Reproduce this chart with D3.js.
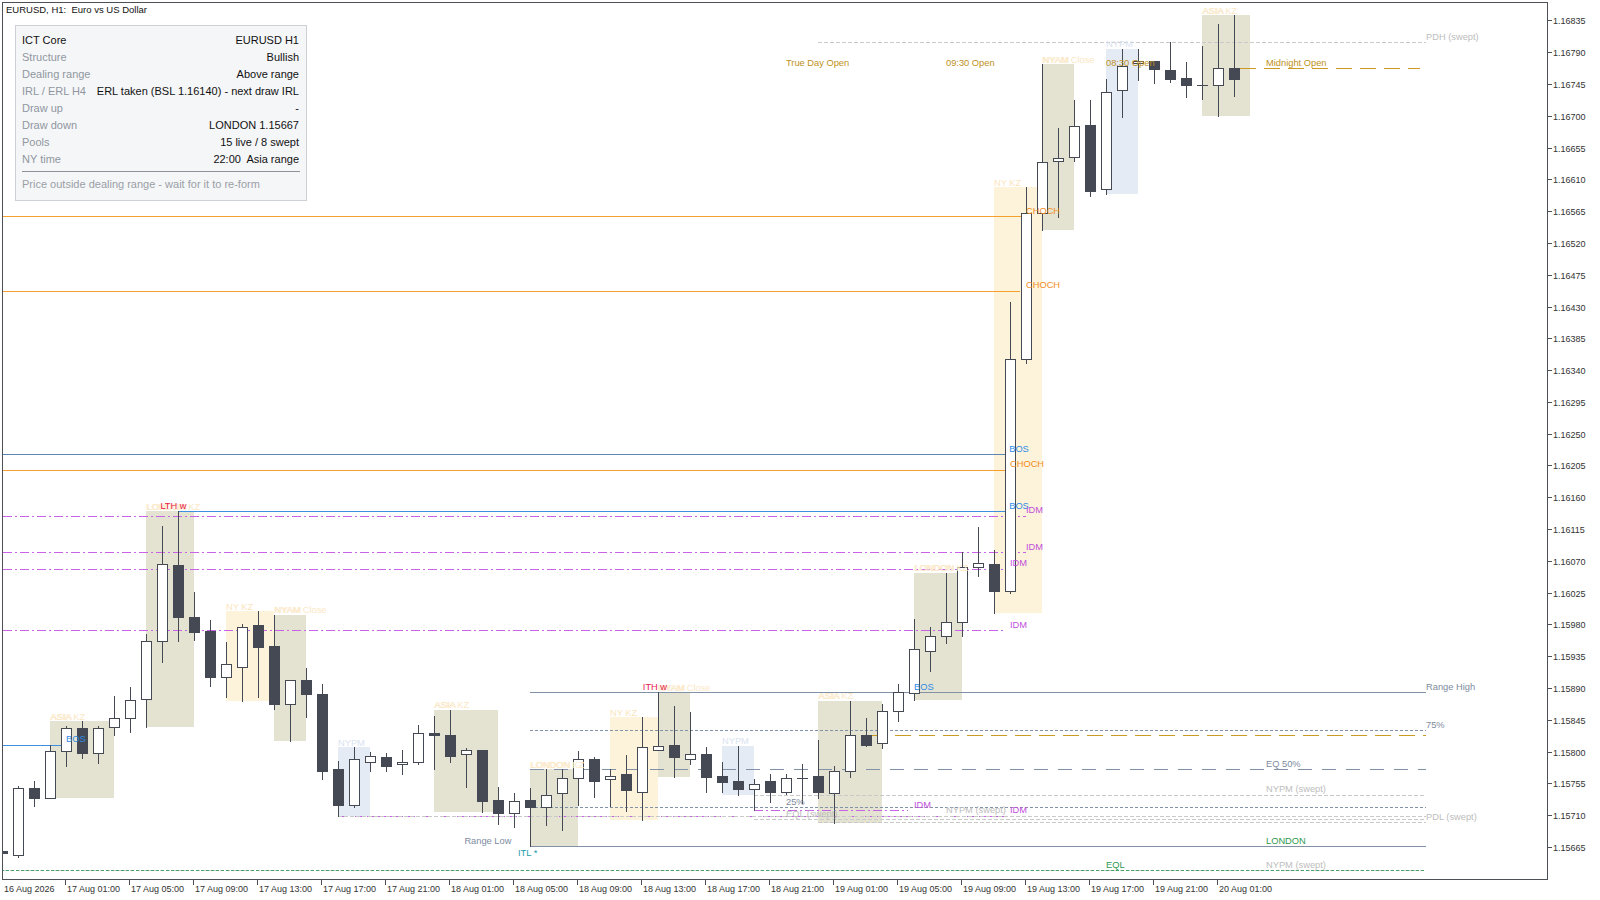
<!DOCTYPE html>
<html><head><meta charset="utf-8">
<script src="https://cdn.jsdelivr.net/npm/d3@7"></script>
<style>body{margin:0;background:#fff;overflow:hidden}svg{display:block}text{white-space:pre}</style>
</head><body><svg id="c" width="1600" height="900" xml:space="preserve"></svg>
<script>
// ---------------- DATA ----------------
const symbolTitle = "EURUSD, H1:  Euro vs US Dollar";
const opens = [1.15660,1.15654,1.15749,1.15735,1.15801,1.15833,1.15798,1.15835,1.15847,1.15874,
1.15956,1.16064,1.15990,1.15971,1.15905,1.15920,1.15979,1.15949,1.15868,1.15901,
1.15882,1.15775,1.15725,1.15786,1.15792,1.15782,1.15785,1.15827,1.15823,1.15796,
1.15802,1.15731,1.15713,1.15731,1.15722,1.15741,1.15762,1.15790,1.15761,1.15768,
1.15743,1.15803,1.15810,1.15790,1.15796,1.15765,1.15758,1.15747,1.15758,1.15743,
1.15762,1.15765,1.15742,1.15772,1.15824,1.15812,1.15858,1.15883,1.15943,1.15963,
1.15983,1.16062,1.16065,1.16028,1.16356,1.16563,1.16636,1.16642,1.16687,1.16596,
1.16736,1.16774,1.16778,1.16765,1.16753,1.16743,1.16743,1.16767];
const highs = [1.15662,1.15751,1.15758,1.15810,1.15836,1.15843,1.15836,1.15879,1.15891,1.15966,
1.16119,1.16140,1.16026,1.15987,1.15955,1.15980,1.15999,1.15994,1.15901,1.15918,
1.15896,1.15787,1.15806,1.15799,1.15798,1.15802,1.15838,1.15850,1.15859,1.15805,
1.15802,1.15750,1.15742,1.15748,1.15775,1.15775,1.15801,1.15793,1.15775,1.15795,
1.15849,1.15884,1.15865,1.15856,1.15806,1.15785,1.15808,1.15761,1.15768,1.15768,
1.15783,1.15816,1.15779,1.15872,1.15847,1.15867,1.15896,1.15988,1.15976,1.16053,
1.16082,1.16118,1.16086,1.16436,1.16599,1.16773,1.16683,1.16723,1.16723,1.16752,
1.16795,1.16795,1.16778,1.16804,1.16776,1.16799,1.16830,1.16842];
const lows = [1.15654,1.15651,1.15723,1.15735,1.15780,1.15791,1.15784,1.15823,1.15828,1.15835,
1.15927,1.15956,1.15958,1.15893,1.15877,1.15871,1.15878,1.15860,1.15815,1.15849,
1.15761,1.15709,1.15721,1.15772,1.15772,1.15769,1.15782,1.15776,1.15786,1.15750,
1.15715,1.15698,1.15693,1.15666,1.15696,1.15689,1.15724,1.15736,1.15723,1.15716,
1.15703,1.15803,1.15764,1.15782,1.15743,1.15743,1.15739,1.15717,1.15728,1.15740,
1.15727,1.15734,1.15699,1.15764,1.15808,1.15805,1.15844,1.15873,1.15914,1.15954,
1.15963,1.16049,1.15996,1.16025,1.16350,1.16538,1.16557,1.16636,1.16586,1.16589,
1.16698,1.16750,1.16747,1.16748,1.16726,1.16724,1.16700,1.16728];
const closes = [1.15656,1.15748,1.15735,1.15801,1.15833,1.15798,1.15833,1.15847,1.15873,1.15956,
1.16065,1.15990,1.15970,1.15906,1.15924,1.15976,1.15948,1.15868,1.15901,1.15882,
1.15773,1.15725,1.15789,1.15794,1.15780,1.15785,1.15827,1.15823,1.15794,1.15802,
1.15730,1.15713,1.15730,1.15722,1.15739,1.15762,1.15790,1.15759,1.15766,1.15745,
1.15806,1.15808,1.15792,1.15796,1.15764,1.15757,1.15747,1.15754,1.15743,1.15762,
1.15762,1.15743,1.15773,1.15824,1.15810,1.15858,1.15884,1.15945,1.15963,1.15983,
1.16062,1.16067,1.16028,1.16356,1.16563,1.16634,1.16640,1.16686,1.16594,1.16733,
1.16771,1.16778,1.16766,1.16752,1.16743,1.16743,1.16767,1.16752];

const priceTicks = [1.16835,1.16790,1.16745,1.16700,1.16655,1.16610,1.16565,1.16520,1.16475,1.16430,
1.16385,1.16340,1.16295,1.16250,1.16205,1.16160,1.16115,1.16070,1.16025,1.15980,1.15935,1.15890,
1.15845,1.15800,1.15755,1.15710,1.15665];
const timeTickBars = [0,4,8,12,16,20,24,28,32,36,40,44,48,52,56,60,64,68,72,76];
const timeTickLabels = ["16 Aug 2026","17 Aug 01:00","17 Aug 05:00","17 Aug 09:00","17 Aug 13:00",
"17 Aug 17:00","17 Aug 21:00","18 Aug 01:00","18 Aug 05:00","18 Aug 09:00","18 Aug 13:00",
"18 Aug 17:00","18 Aug 21:00","19 Aug 01:00","19 Aug 05:00","19 Aug 09:00","19 Aug 13:00",
"19 Aug 17:00","19 Aug 21:00","20 Aug 01:00"];

// sessions: [from bar, to bar) ; box = high/low of those bars
const sessions = [
 {names:["ASIA","ASIA KZ"], kind:"olive", from:3, to:7},
 {names:["LONDON","LONDON KZ"], kind:"olive", from:9, to:12},
 {names:["NY KZ"], kind:"yellow", from:14, to:17},
 {names:["NYAM","NYAM Close"], kind:"olive", from:17, to:19},
 {names:["NYPM"], kind:"blue", from:21, to:23},
 {names:["ASIA","ASIA KZ"], kind:"olive", from:27, to:31},
 {names:["LONDON","LONDON KZ"], kind:"olive", from:33, to:36},
 {names:["NY KZ"], kind:"yellow", from:38, to:41},
 {names:["NYAM","NYAM Close"], kind:"olive", from:41, to:43},
 {names:["NYPM"], kind:"blue", from:45, to:47},
 {names:["ASIA","ASIA KZ"], kind:"olive", from:51, to:55},
 {names:["LONDON","LONDON KZ"], kind:"olive", from:57, to:60},
 {names:["NY KZ"], kind:"yellow", from:62, to:65},
 {names:["NYAM","NYAM Close"], kind:"olive", from:65, to:67},
 {names:["NYPM"], kind:"blue", from:69, to:71},
 {names:["ASIA","ASIA KZ"], kind:"olive", from:75, to:78}
];

// horizontal levels: price, from bar, to bar, kind
const levels = [
 {p:1.16558, from:-1, to:63.7, kind:"choch"},
 {p:1.16452, from:-1, to:63.6, kind:"choch"},
 {p:1.16199, from:-1, to:62.7, kind:"choch"},
 {p:1.16221, from:-1, to:62.7, kind:"bos2"},
 {p:1.16140, from:11, to:62.7, kind:"bos"},
 {p:1.15810, from:-1, to:3.75, kind:"bos"},
 {p:1.15884, from:41, to:56.6, kind:"bos"},
 {p:1.16134, from:-1, to:64, kind:"idm"},
 {p:1.16082, from:-1, to:64, kind:"idm"},
 {p:1.16059, from:-1, to:62.6, kind:"idm"},
 {p:1.15972, from:-1, to:62.6, kind:"idm"},
 {p:1.15709, from:21, to:62.6, kind:"idm"},
 {p:1.15717, from:47, to:56.6, kind:"idm"},
 {p:1.15884, from:33, to:89, kind:"range"},
 {p:1.15666, from:33, to:89, kind:"range"},
 {p:1.15830, from:33, to:89, kind:"rangeDot"},
 {p:1.15721, from:33, to:89, kind:"rangeDot"},
 {p:1.15775, from:33, to:89, kind:"rangeEq"},
 {p:1.16804, from:51, to:89, kind:"swept"},
 {p:1.15739, from:47, to:89, kind:"swept"},
 {p:1.15709, from:21, to:89, kind:"swept"},
 {p:1.15704, from:47, to:89, kind:"swept"},
 {p:1.15700, from:51, to:89, kind:"swept"},
 {p:1.15632, from:-1, to:89, kind:"swept"},
 {p:1.15632, from:-1, to:89, kind:"eql"},
 {p:1.15824, from:54.3, to:89, kind:"open"},
 {p:1.16767, from:77.4, to:88.6, kind:"open"}
];

// text labels anchored at bar / price
const labels = [
 {t:"CHOCH", bar:64, p:1.16558, kind:"choch"},
 {t:"CHOCH", bar:64, p:1.16452, kind:"choch"},
 {t:"CHOCH", bar:63, p:1.16199, kind:"choch"},
 {t:"BOS", bar:62.95, p:1.16221, kind:"bos"},
 {t:"BOS", bar:62.95, p:1.16140, kind:"bos"},
 {t:"BOS", bar:4, p:1.15810, kind:"bos"},
 {t:"BOS", bar:57, p:1.15884, kind:"bos"},
 {t:"IDM", bar:64, p:1.16134, kind:"idm"},
 {t:"IDM", bar:64, p:1.16082, kind:"idm"},
 {t:"IDM", bar:63, p:1.16059, kind:"idm"},
 {t:"IDM", bar:63, p:1.15972, kind:"idm"},
 {t:"IDM", bar:63, p:1.15709, kind:"idm"},
 {t:"IDM", bar:57, p:1.15717, kind:"idm"},
 {t:"Range High", bar:89, p:1.15884, kind:"range"},
 {t:"Range Low", bar:28.9, p:1.15666, kind:"range"},
 {t:"75%", bar:89, p:1.15830, kind:"range"},
 {t:"EQ 50%", bar:79, p:1.15775, kind:"range"},
 {t:"25%", bar:49, p:1.15721, kind:"range"},
 {t:"LONDON", bar:79, p:1.15666, kind:"green"},
 {t:"EQL", bar:69, p:1.15632, kind:"green"},
 {t:"NYPM (swept)", bar:79, p:1.15632, kind:"swept"},
 {t:"NYPM (swept)", bar:79, p:1.15739, kind:"swept"},
 {t:"NYPM (swept)", bar:59, p:1.15709, kind:"swept"},
 {t:"EQL (swept)", bar:49, p:1.15704, kind:"swept"},
 {t:"PDL (swept)", bar:89, p:1.15700, kind:"swept"},
 {t:"PDH (swept)", bar:89, p:1.16804, kind:"swept"},
 {t:"True Day Open", bar:49, p:1.16767, kind:"open"},
 {t:"09:30 Open", bar:59, p:1.16767, kind:"open"},
 {t:"08:30 Open", bar:69, p:1.16767, kind:"open"},
 {t:"Midnight Open", bar:79, p:1.16767, kind:"open"},
 {t:"LTH w", bar:9.9, p:1.16140, kind:"red"},
 {t:"ITH w", bar:40.05, p:1.15884, kind:"red"},
 {t:"ITL *", bar:32.25, p:1.15666, kind:"teal", below:true}
];

const panelKeys = ["ICT Core","Structure","Dealing range","IRL / ERL H4","Draw up","Draw down","Pools","NY time"];
const panelValues = ["EURUSD H1","Bullish","Above range","ERL taken (BSL 1.16140) - next draw IRL","-","LONDON 1.15667","15 live / 8 swept","22:00  Asia range"];
const panelNote = "Price outside dealing range - wait for it to re-form";

// ---------------- STYLES ----------------
const C = {candle:"#444953", border:"#4e5058", axisText:"#333"};
const lineStyle = {
 choch:{stroke:"#f5a02e", dash:null, w:1.1},
 bos:{stroke:"#3d8fe0", dash:null, w:1.1},
 bos2:{stroke:"#5c86b4", dash:null, w:1.1},
 idm:{stroke:"#c862e6", dash:"9,3,2,3", w:1.1},
 range:{stroke:"#8191a6", dash:null, w:1.1},
 rangeDot:{stroke:"#8191a6", dash:"3,2", w:1},
 rangeEq:{stroke:"#8191a6", dash:"14,10", w:1.1},
 swept:{stroke:"#c9c9c9", dash:"4,2", w:1},
 eql:{stroke:"#45a466", dash:"3,2", w:1},
 open:{stroke:"#cc9a22", dash:"16,8", w:1.1}
};
const labelColor = {choch:"#f28c1c", bos:"#2f8be6", idm:"#c04fdc", range:"#7d8ba0", green:"#2e9a50",
 swept:"#bdbdbd", open:"#c0901c", red:"#e8194a", teal:"#1b9bab"};
const boxFill = {olive:"#e4e3d1", yellow:"#fdf3da", blue:"#e4ebf5"};
const boxLabel = {olive:"#fbe8c6", yellow:"#fbe5bd", blue:"#d9e3f0"};

// font detection
function hasFont(f){
  const ctx=document.createElement("canvas").getContext("2d");
  const s="Range High 1.16835 Aug";
  ctx.font="40px monospace"; const a=ctx.measureText(s).width;
  ctx.font=`40px "${f}", monospace`; const b=ctx.measureText(s).width;
  return Math.abs(a-b)>0.5;
}
const narrow = hasFont("Liberation Sans Narrow");
const chartFont = narrow ? '"Liberation Sans Narrow", "Liberation Sans", Arial, sans-serif' : '"Liberation Sans", Arial, sans-serif';
const chartSize = narrow ? 11 : 9.3;
const axisSize = narrow ? 10.8 : 9;
const mainFont = '"Liberation Sans", Arial, sans-serif';

// ---------------- SCALES ----------------
const W=1600,H=900;
const plot = {l:2.5, t:2.5, r:1547.5, b:879.5};
const barStep = 16;
const xs = d3.scaleLinear().domain([0,1]).range([2, 2+barStep]);
const ys = d3.scaleLinear().domain([1.15665,1.16835]).range([847,20.4]);

const svg = d3.select("#c");
svg.append("rect").attr("width",W).attr("height",H).attr("fill","#fff");
svg.append("clipPath").attr("id","clip").append("rect")
  .attr("x",plot.l+0.5).attr("y",plot.t+0.5).attr("width",plot.r-plot.l-1).attr("height",plot.b-plot.t-1);
const g = svg.append("g").attr("clip-path","url(#clip)");

const bars = opens.map((o,i)=>({i,o,h:highs[i],l:lows[i],c:closes[i]}));
const px = v=>Math.round(v)+0.5;

// session boxes
const sess = sessions.map(s=>{
  const hi=d3.max(highs.slice(s.from,s.to)), lo=d3.min(lows.slice(s.from,s.to));
  return {...s,hi,lo};
});
g.append("g").selectAll("rect").data(sess).join("rect")
  .attr("x",d=>Math.round(xs(d.from))).attr("width",d=>Math.round(xs(d.to))-Math.round(xs(d.from)))
  .attr("y",d=>Math.round(ys(d.hi))).attr("height",d=>Math.round(ys(d.lo))-Math.round(ys(d.hi)))
  .attr("fill",d=>boxFill[d.kind]);

// levels
g.append("g").selectAll("line").data(levels).join("line")
  .attr("x1",d=>xs(d.from)).attr("x2",d=>xs(d.to))
  .attr("y1",d=>px(ys(d.p))).attr("y2",d=>px(ys(d.p)))
  .attr("stroke",d=>lineStyle[d.kind].stroke)
  .attr("stroke-width",d=>lineStyle[d.kind].w)
  .attr("stroke-dasharray",d=>lineStyle[d.kind].dash)
  .attr("shape-rendering","crispEdges");

// candles
const cg = g.append("g");
cg.selectAll("line.wick").data(bars).join("line").attr("class","wick")
  .attr("x1",d=>px(xs(d.i))).attr("x2",d=>px(xs(d.i)))
  .attr("y1",d=>Math.round(ys(d.h))).attr("y2",d=>Math.round(ys(d.l))+1)
  .attr("stroke",C.candle).attr("stroke-width",1.2).attr("shape-rendering","crispEdges");
cg.selectAll("rect.body").data(bars.filter(d=>d.o!==d.c)).join("rect").attr("class","body")
  .attr("x",d=>Math.round(xs(d.i))-4.5).attr("width",10)
  .attr("y",d=>px(ys(Math.max(d.o,d.c)))).attr("height",d=>Math.max(1,Math.round(ys(Math.min(d.o,d.c)))-Math.round(ys(Math.max(d.o,d.c)))))
  .attr("fill",d=>d.c>d.o?"#fff":C.candle).attr("stroke",C.candle).attr("stroke-width",1.2)
  .attr("shape-rendering","crispEdges");
cg.selectAll("line.doji").data(bars.filter(d=>d.o===d.c)).join("line").attr("class","doji")
  .attr("x1",d=>Math.round(xs(d.i))-5).attr("x2",d=>Math.round(xs(d.i))+6)
  .attr("y1",d=>px(ys(d.o))).attr("y2",d=>px(ys(d.o)))
  .attr("stroke",C.candle).attr("stroke-width",1.2).attr("shape-rendering","crispEdges");

// session labels
const sl = g.append("g").attr("font-family",chartFont).attr("font-size",chartSize);
sess.forEach(s=>{
  s.names.forEach((n,k)=>{
    sl.append("text").attr("x",xs(s.from)+(k===0&&s.names.length>1?1:0)).attr("y",ys(s.hi)-1.5)
      .attr("fill",boxLabel[s.kind]).text(n);
  });
});

// level labels
const lg = g.append("g").attr("font-family",chartFont).attr("font-size",chartSize);
lg.selectAll("text").data(labels).join("text")
  .attr("x",d=>xs(d.bar)).attr("y",d=>d.below? ys(d.p)+9.5 : ys(d.p)-2.5)
  .attr("fill",d=>labelColor[d.kind]).text(d=>d.t);

// border
svg.append("rect").attr("x",plot.l).attr("y",plot.t).attr("width",plot.r-plot.l).attr("height",plot.b-plot.t)
  .attr("fill","none").attr("stroke",C.border).attr("stroke-width",1).attr("shape-rendering","crispEdges");

// title
svg.append("text").attr("x",6).attr("y",12.5).attr("font-family",mainFont).attr("font-size",9.5)
  .attr("fill","#111").text(symbolTitle);

// price axis
const pa = svg.append("g").attr("font-family",chartFont).attr("font-size",axisSize).attr("fill",C.axisText);
priceTicks.forEach(p=>{
  const y=px(ys(p));
  pa.append("line").attr("x1",plot.r).attr("x2",plot.r+4).attr("y1",y).attr("y2",y)
    .attr("stroke",C.border).attr("shape-rendering","crispEdges");
  pa.append("text").attr("x",plot.r+5.5).attr("y",y+3.5).text(p.toFixed(5));
});

// time axis
const ta = svg.append("g").attr("font-family",chartFont).attr("font-size",axisSize).attr("fill",C.axisText);
timeTickBars.forEach((b,k)=>{
  const x=px(xs(b)-1);
  if(k>0) ta.append("line").attr("x1",x).attr("x2",x).attr("y1",plot.b).attr("y2",plot.b+5)
    .attr("stroke",C.border).attr("shape-rendering","crispEdges");
  ta.append("text").attr("x",k>0?x+1.5:4).attr("y",892).text(timeTickLabels[k]);
});

// info panel
const pn = svg.append("g").attr("font-family",mainFont).attr("font-size",11);
pn.append("rect").attr("x",15.5).attr("y",25.5).attr("width",291).attr("height",175)
  .attr("fill","#f5f6f8").attr("stroke","#cdd1d6").attr("shape-rendering","crispEdges");
panelKeys.forEach((k,i)=>{
  const y=44+i*16.95;
  pn.append("text").attr("x",22).attr("y",y).attr("fill",i===0?"#111":"#9096a0").text(k);
  pn.append("text").attr("x",299).attr("y",y).attr("text-anchor","end").attr("fill","#111").text(panelValues[i]);
});
pn.append("line").attr("x1",22).attr("x2",300).attr("y1",171.5).attr("y2",171.5).attr("stroke","#8d9199").attr("shape-rendering","crispEdges");
pn.append("text").attr("x",22).attr("y",188).attr("fill","#9a9fa6").text(panelNote);
</script></body></html>
